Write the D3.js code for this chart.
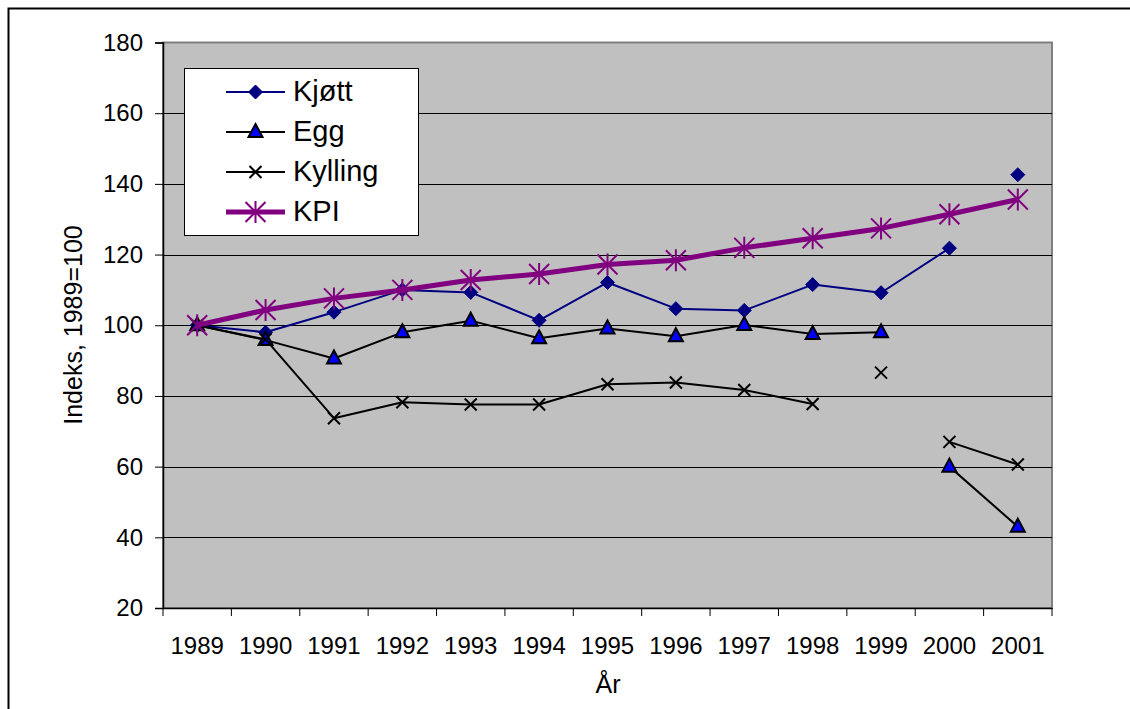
<!DOCTYPE html>
<html>
<head>
<meta charset="utf-8">
<script src="https://cdn.jsdelivr.net/npm/d3@7"></script>
<style>
  html, body { margin: 0; padding: 0; background: #fff; }
  svg { display: block; font-family: "Liberation Sans", Arial, sans-serif; }
</style>
</head>
<body>
<svg id="chart" width="1130" height="709"></svg>
<script>
const years = ["1989","1990","1991","1992","1993","1994","1995","1996","1997","1998","1999","2000","2001"];
const kjott   = [100, 98.0, 103.7, 110.0, 109.3, 101.4, 112.1, 104.7, 104.2, 111.5, 109.2, 121.8, 142.6];
const egg     = [100, 95.8, 90.6, 98.0, 101.3, 96.3, 99.1, 96.9, 100.1, 97.5, 98.0, 60.0, 43.0];
const kylling = [100, 96.0, 73.7, 78.2, 77.6, 77.6, 83.3, 83.8, 81.7, 77.7, 86.6, 67.0, 60.6];
const kpi     = [100, 104.3, 107.6, 110.0, 112.8, 114.5, 117.2, 118.4, 121.9, 124.6, 127.4, 131.4, 135.6];
// years after which the plotted line is broken
const kjottBreaks   = ["2000"];
const eggBreaks     = ["1999"];
const kyllingBreaks = ["1998", "1999"];
const kpiBreaks     = [];
const yTicks = [20, 40, 60, 80, 100, 120, 140, 160, 180];

const series = [
  {name: "Kjøtt",   values: kjott,   breaks: kjottBreaks,   color: "#000080", width: 2, marker: "diamond"},
  {name: "Egg",     values: egg,     breaks: eggBreaks,     color: "#000000", width: 2, marker: "triangle"},
  {name: "Kylling", values: kylling, breaks: kyllingBreaks, color: "#000000", width: 2, marker: "x"},
  {name: "KPI",     values: kpi,     breaks: kpiBreaks,     color: "#800080", width: 5, marker: "star"}
];

const svg = d3.select("#chart");
const L = 163, R = 1052, T = 42.5, B = 608;

// outer border
svg.append("rect").attr("x", 8.5).attr("y", 8.5).attr("width", 1140).attr("height", 720)
  .attr("fill", "#fff").attr("stroke", "#000").attr("stroke-width", 2);

const x = d3.scaleBand().domain(years).range([L, R]).padding(0);
const y = d3.scaleLinear().domain([20, 180]).range([B, T]);
const cx = d => x(d) + x.bandwidth() / 2;

// plot area
svg.append("rect").attr("x", L).attr("y", T).attr("width", R - L).attr("height", B - T)
  .attr("fill", "#C0C0C0").attr("stroke", "#808080").attr("stroke-width", 2);

// gridlines
svg.append("g").selectAll("line").data(yTicks.filter(t => t > 20 && t < 180)).join("line")
  .attr("x1", L).attr("x2", R).attr("y1", d => Math.round(y(d)) + 0.5).attr("y2", d => Math.round(y(d)) + 0.5)
  .attr("stroke", "#000").attr("stroke-width", 1);

// y axis
const yAxis = d3.axisLeft(y).tickValues(yTicks).tickSize(8).tickPadding(12);
const gy = svg.append("g").attr("transform", `translate(${L},0)`).call(yAxis);
gy.select(".domain").attr("stroke", "#000").attr("stroke-width", 1.5);
gy.selectAll(".tick line").attr("stroke", "#000");
gy.selectAll("text").attr("font-size", 24).attr("font-family", "Liberation Sans, Arial, sans-serif").attr("fill", "#000");

// x axis
const xAxis = d3.axisBottom(x).tickSize(0).tickPadding(29);
const gx = svg.append("g").attr("transform", `translate(0,${B})`).call(xAxis);
gx.select(".domain").attr("stroke", "#000").attr("stroke-width", 1.5);
gx.selectAll("text").attr("font-size", 24).attr("font-family", "Liberation Sans, Arial, sans-serif").attr("fill", "#000");
// tick marks on band boundaries
const bounds = years.map(d => x(d)).concat([R]);
svg.append("g").selectAll("line").data(bounds).join("line")
  .attr("x1", d => d).attr("x2", d => d).attr("y1", B).attr("y2", B + 8)
  .attr("stroke", "#000").attr("stroke-width", 1);

// axis titles
svg.append("text").attr("x", 608).attr("y", 693).attr("text-anchor", "middle")
  .attr("font-size", 25).text("År");
svg.append("text").attr("transform", "translate(82,325) rotate(-90)").attr("text-anchor", "middle")
  .attr("font-size", 25).text("Indeks, 1989=100");

function drawMarker(g, type, px, py, color) {
  if (type === "diamond") {
    g.append("path").attr("d", `M${px},${py-7}L${px+7},${py}L${px},${py+7}L${px-7},${py}Z`)
      .attr("fill", "#000080").attr("stroke", "#000080").attr("stroke-width", 1);
  } else if (type === "triangle") {
    g.append("path").attr("d", `M${px},${py-8}L${px+7},${py+5}L${px-7},${py+5}Z`)
      .attr("fill", "#0000FF").attr("stroke", "#000").attr("stroke-width", 2).attr("stroke-linejoin", "miter");
  } else if (type === "x") {
    const s = 6;
    g.append("path").attr("d", `M${px-s},${py-s}L${px+s},${py+s}M${px-s},${py+s}L${px+s},${py-s}`)
      .attr("stroke", "#000").attr("stroke-width", 2).attr("fill", "none");
  } else if (type === "star") {
    const s = 10;
    g.append("path").attr("d", `M${px-s},${py-s}L${px+s},${py+s}M${px-s},${py+s}L${px+s},${py-s}M${px},${py-s-1}L${px},${py+s+1}`)
      .attr("stroke", color).attr("stroke-width", 2).attr("fill", "none");
  }
}

const line = d3.line().x(d => cx(d.year)).y(d => y(d.value));

series.forEach(s => {
  const g = svg.append("g");
  const pts = years.map((yr, i) => ({year: yr, value: s.values[i]}));
  const segs = [];
  let cur = [];
  pts.forEach(p => {
    cur.push(p);
    if (s.breaks.includes(p.year)) { segs.push(cur); cur = []; }
  });
  if (cur.length) segs.push(cur);
  segs.filter(sg => sg.length > 1).forEach(sg => {
    g.append("path").attr("d", line(sg)).attr("fill", "none")
      .attr("stroke", s.color).attr("stroke-width", s.width).attr("stroke-linejoin", "round");
  });
  pts.forEach(p => drawMarker(g, s.marker, cx(p.year), y(p.value), s.color));
});

// legend
const lg = svg.append("g");
lg.append("rect").attr("x", 184.5).attr("y", 68.5).attr("width", 234).attr("height", 167)
  .attr("fill", "#fff").attr("stroke", "#000").attr("stroke-width", 1);
series.forEach((s, i) => {
  const ly = 92 + i * 40;
  lg.append("line").attr("x1", 226).attr("x2", 285).attr("y1", ly).attr("y2", ly)
    .attr("stroke", s.color).attr("stroke-width", s.width);
  drawMarker(lg, s.marker, 255.5, ly, s.color);
  lg.append("text").attr("x", 293).attr("y", ly + 9).attr("font-size", 29).text(s.name);
});
</script>
</body>
</html>
